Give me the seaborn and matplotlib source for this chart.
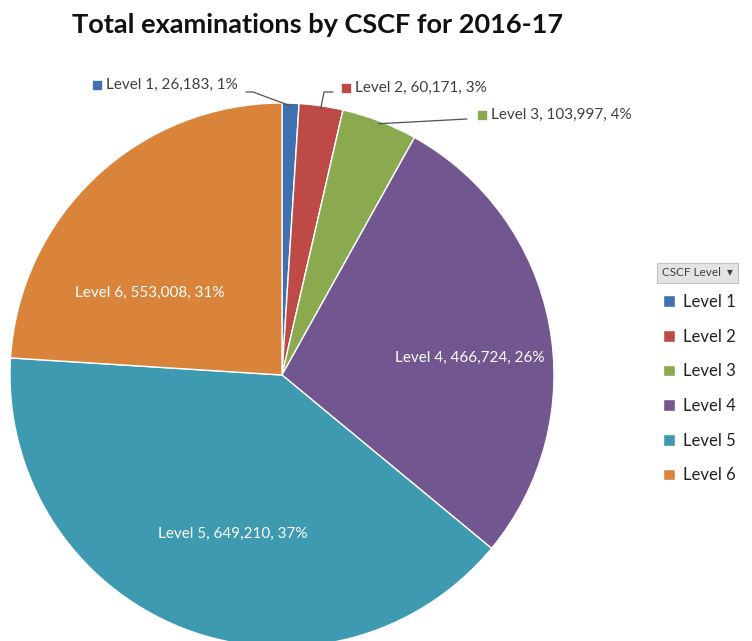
import numpy as np
import matplotlib
matplotlib.use("Agg")
import matplotlib.pyplot as plt
import seaborn as sns

# data
levels = ["Level 1", "Level 2", "Level 3", "Level 4", "Level 5", "Level 6"]
exams = [26183, 60171, 103997, 466724, 649210, 553008]
label_pct = [1, 3, 4, 26, 37, 31]
# slice sizes as drawn in the picture (% of the circle)
drawn_share = [1.0, 2.6, 4.5, 27.9, 40.0, 24.0]
colors = ["#3F70B0", "#BE4A47", "#8BAA4F", "#725690", "#3E9AB0", "#DA843B"]

sns.set_theme(style="white")
plt.rcParams['font.family'] = ['Lato', 'DejaVu Sans']

W, H = 752, 641
fig = plt.figure(figsize=(W / 100, H / 100), dpi=100)
cx, cy, r = 282, 375, 272
ax = fig.add_axes([(cx - r) / W, (H - cy - r) / H, 2 * r / W, 2 * r / H])


def px(x, y):
    # pixel position -> data coords of the pie axes
    return (x - cx) / r, (cy - y) / r


wedges, _ = ax.pie(drawn_share, colors=colors, startangle=90, counterclock=False,
                   radius=1, wedgeprops=dict(edgecolor="white", linewidth=1.0))
ax.set_xlim(-1, 1)
ax.set_ylim(-1, 1)
ax.axis("off")

labels = [f"{l}, {v:,}, {p}%" for l, v, p in zip(levels, exams, label_pct)]

# inside labels (white)
inside = {3: (470, 358), 4: (233, 534), 5: (150, 293)}
for i, (x, y) in inside.items():
    ax.text(*px(x, y), labels[i], color="white", fontsize=11,
            ha="center", va="center")

# outside labels with a colour key and leader line
outside = {0: (106, 85, [(246, 92), (253, 92)]),
           1: (355, 88, [(333, 92), (324, 92)]),
           2: (491, 115, [(467, 119)])}
for i, (x, y, pts) in outside.items():
    ax.text(*px(x, y), labels[i], color="#404040", fontsize=11,
            ha="left", va="center")
    ax.scatter(*px(x - 9, y), marker="s", s=40, color=colors[i], clip_on=False)
    w = wedges[i]
    mid = np.deg2rad((w.theta1 + w.theta2) / 2)
    end = (0.99 * np.cos(mid), 0.99 * np.sin(mid))
    line = [px(*p) for p in pts] + [end]
    xs, ys = zip(*line)
    ax.plot(xs, ys, color="#505050", lw=0.9, clip_on=False)

fig.text(318 / W, 1 - 25 / H, "Total examinations by CSCF for 2016-17",
         ha="center", va="center", fontsize=19.5, fontweight="bold", color="#111111")

# legend
fig.text(662 / W, 1 - 273 / H, "CSCF Level  \u25BE", fontsize=8.5, color="#404040",
         ha="left", va="center",
         bbox=dict(boxstyle="square,pad=0.4", fc="#E4E4E4", ec="#C0C0C0", lw=0.8))
fig.legend(wedges, levels, loc="upper left", bbox_to_anchor=(648 / W, 1 - 279 / H),
           frameon=False, fontsize=12, handlelength=0.7, handleheight=0.7,
           handletextpad=0.5, labelspacing=1.12, labelcolor="#222222")

fig.savefig("out.png", dpi=100)
